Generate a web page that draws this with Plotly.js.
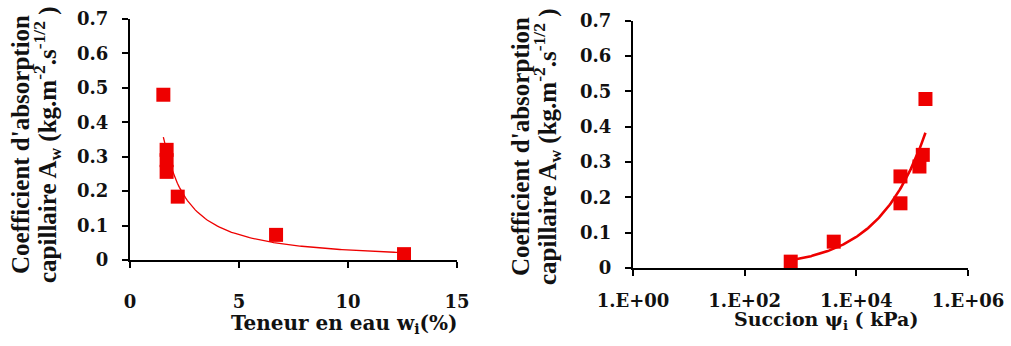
<!DOCTYPE html>
<html>
<head>
<meta charset="utf-8">
<script src="https://cdn.plot.ly/plotly-3.0.1.min.js"></script>
<style>html,body{margin:0;padding:0;background:#fff}#chart{width:1011px;height:346px}</style>
</head>
<body>
<div id="chart"></div>
<script>
// ---- data ----
const waterContent = [1.53, 1.68, 1.68, 1.68, 2.19, 6.70, 12.57];          // w_i (%)
const absorptionLeft = [0.48, 0.32, 0.29, 0.256, 0.184, 0.073, 0.017];     // A_w
const suction = [668, 3940, 61700, 61700, 135000, 155000, 173000];         // psi_i (kPa)
const absorptionRight = [0.018, 0.0745, 0.259, 0.183, 0.287, 0.32, 0.478]; // A_w

const yTickVals = [0, 0.1, 0.2, 0.3, 0.4, 0.5, 0.6, 0.7];
const yTickText = ["0", "0.1", "0.2", "0.3", "0.4", "0.5", "0.6", "0.7"];
const xTickValsLeft = [0, 5, 10, 15];
const xTickTextLeft = ["0", "5", "10", "15"];
const xTickValsRight = [1, 100, 10000, 1000000];
const xTickTextRight = ["1.E+00", "1.E+02", "1.E+04", "1.E+06"];

const xTitleLeft = "Teneur en eau w<sub>i</sub>(%)";
const xTitleRight = "Succion \u03c8<sub>i</sub> ( kPa)";
const yTitleLine1 = "Coefficient d'absorption";
const yTitleLine2 = "capillaire A<sub>w</sub> (kg.m<sup>-2</sup>.s<sup>-1/2</sup> )";

// ---- power-law trendline (least squares on log-log, as a spreadsheet does) ----
function powerFit(xs, ys) {
  const n = xs.length;
  let sx = 0, sy = 0, sxx = 0, sxy = 0;
  for (let i = 0; i < n; i++) {
    const lx = Math.log(xs[i]), ly = Math.log(ys[i]);
    sx += lx; sy += ly; sxx += lx * lx; sxy += lx * ly;
  }
  const b = (n * sxy - sx * sy) / (n * sxx - sx * sx);
  const a = Math.exp((sy - b * sx) / n);
  return { a, b };
}
function fitCurve(xs, ys, logSpacing) {
  const f = powerFit(xs, ys);
  const lo = Math.min(...xs), hi = Math.max(...xs);
  const cx = [], cy = [];
  const N = 120;
  for (let i = 0; i <= N; i++) {
    const t = i / N;
    const x = logSpacing ? Math.exp(Math.log(lo) + t * (Math.log(hi) - Math.log(lo))) : lo + t * (hi - lo);
    cx.push(x); cy.push(f.a * Math.pow(x, f.b));
  }
  return { cx, cy };
}
const fitL = fitCurve(waterContent, absorptionLeft, false);
const fitR = fitCurve(suction, absorptionRight, true);

const RED = "#ee0000";
const tickFontH = { family: "DejaVu Serif", size: 18, weight: "bold", color: "#111" };
const titleFontL = { family: "DejaVu Serif", size: 20, weight: "bold", color: "#111" };
const titleFontR = { family: "DejaVu Serif", size: 19, weight: "bold", color: "#111" };
const titleFontV = { family: "Liberation Serif", size: 25, weight: "bold", color: "#111" };

const traces = [
  { x: fitL.cx, y: fitL.cy, mode: "lines", line: { color: RED, width: 1.3 }, xaxis: "x", yaxis: "y", hoverinfo: "skip" },
  { x: waterContent, y: absorptionLeft, mode: "markers", marker: { symbol: "square", size: 14, color: RED }, xaxis: "x", yaxis: "y", cliponaxis: false },
  { x: fitR.cx, y: fitR.cy, mode: "lines", line: { color: RED, width: 2.6 }, xaxis: "x2", yaxis: "y2", hoverinfo: "skip" },
  { x: suction, y: absorptionRight, mode: "markers", marker: { symbol: "square", size: 14, color: RED }, xaxis: "x2", yaxis: "y2", cliponaxis: false }
];

const axisBase = {
  showline: true, linecolor: "#000", linewidth: 2, ticks: "outside", ticklen: 6, tickwidth: 2, tickcolor: "#000",
  showgrid: false, zeroline: false, tickfont: tickFontH, tickmode: "array", fixedrange: true
};

const W = 1011, H = 346;
const px = v => v / W, py = v => (H - v) / H;

const layout = {
  width: W, height: H, showlegend: false,
  paper_bgcolor: "#fff", plot_bgcolor: "#fff",
  margin: { l: 0, r: 0, t: 0, b: 0 },
  xaxis: Object.assign({}, axisBase, { domain: [px(130), px(457)], range: [0, 15], tickvals: xTickValsLeft, ticktext: xTickTextLeft, anchor: "y", ticklabelstandoff: 18 }),
  yaxis: Object.assign({}, axisBase, { domain: [py(260), py(19)], range: [0, 0.7], tickvals: yTickVals, ticktext: yTickText, anchor: "x", ticklabelstandoff: 10 }),
  xaxis2: Object.assign({}, axisBase, { type: "log", domain: [px(633), px(968)], range: [0, 6], tickvals: xTickValsRight, ticktext: xTickTextRight, anchor: "y2", ticklabelstandoff: 9 }),
  yaxis2: Object.assign({}, axisBase, { domain: [py(268), py(20.5)], range: [0, 0.7], tickvals: yTickVals, ticktext: yTickText, anchor: "x2", ticklabelstandoff: 10 }),
  annotations: [
    { text: xTitleLeft, xref: "paper", yref: "paper", x: px(344), y: py(324), xanchor: "center", yanchor: "middle", showarrow: false, font: titleFontL },
    { text: xTitleRight, xref: "paper", yref: "paper", x: px(826), y: py(320), xanchor: "center", yanchor: "middle", showarrow: false, font: titleFontR },
    { text: yTitleLine1, xref: "paper", yref: "paper", x: px(20), y: py(145), xanchor: "center", yanchor: "middle", textangle: -90, showarrow: false, font: titleFontV },
    { text: yTitleLine2, xref: "paper", yref: "paper", x: px(47), y: py(145), xanchor: "center", yanchor: "middle", textangle: -90, showarrow: false, font: titleFontV },
    { text: yTitleLine1, xref: "paper", yref: "paper", x: px(520), y: py(147), xanchor: "center", yanchor: "middle", textangle: -90, showarrow: false, font: titleFontV },
    { text: yTitleLine2, xref: "paper", yref: "paper", x: px(547), y: py(147), xanchor: "center", yanchor: "middle", textangle: -90, showarrow: false, font: titleFontV }
  ]
};

Plotly.newPlot("chart", traces, layout, { displayModeBar: false, staticPlot: true });
</script>
</body>
</html>
